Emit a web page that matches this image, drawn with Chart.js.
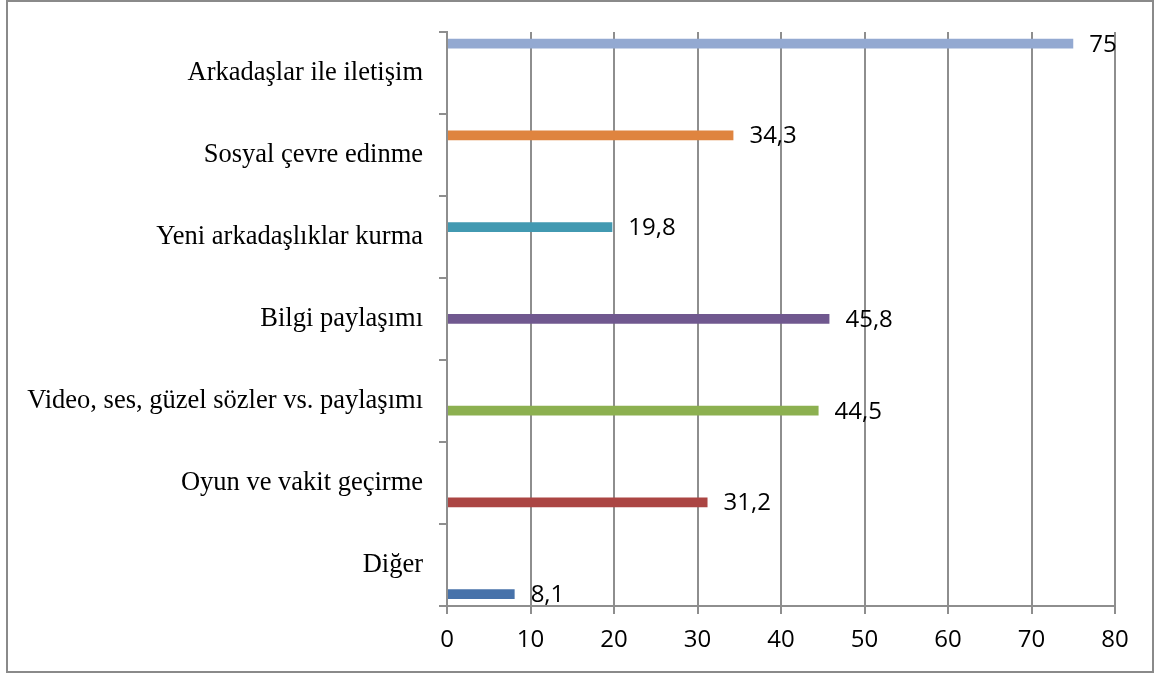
<!DOCTYPE html>
<html>
<head>
<meta charset="utf-8">
<script src="https://cdn.jsdelivr.net/npm/chart.js@4"></script>
<style>
  html, body { margin: 0; padding: 0; background: #fff; }
  #chart { display: block; }
</style>
</head>
<body>
<canvas id="chart" width="1164" height="675"></canvas>
<script>
// Kategoriler ve değerler (yüzde)
const categories = [
    'Arkadaşlar ile iletişim',
    'Sosyal çevre edinme',
    'Yeni arkadaşlıklar kurma',
    'Bilgi paylaşımı',
    'Video, ses, güzel sözler vs. paylaşımı',
    'Oyun ve vakit geçirme',
    'Diğer'
];
const values = [75, 34.3, 19.8, 45.8, 44.5, 31.2, 8.1];
const barColors = ['#93A9D1', '#DF843F', '#4299B1', '#70588F', '#8CB050', '#AB4543', '#4772AA'];
const xTicks = [0, 10, 20, 30, 40, 50, 60, 70, 80];

const gridColor = '#8e8e8e';

// Her kategori ayrı bir seri (Excel'deki gibi)
const datasets = categories.map((c, i) => ({
    label: c,
    data: categories.map((_, j) => (j === i ? values[i] : null)),
    backgroundColor: barColors[i],
    borderWidth: 0,
    categoryPercentage: 0.83,
    barPercentage: 1.0
}));

// Çerçeve ve değer etiketleri
const frame = {
    id: 'frame',
    afterDraw(chart) {
        const ctx = chart.ctx;
        ctx.save();
        ctx.strokeStyle = '#8a8a8a';
        ctx.lineWidth = 2;
        ctx.strokeRect(7, 1, 1146, 671);
        ctx.restore();
    }
};

const valueLabels = {
    id: 'valueLabels',
    afterDatasetsDraw(chart) {
        const ctx = chart.ctx;
        ctx.save();
        ctx.font = '24px "Open Sans"';
        ctx.fillStyle = '#000';
        ctx.textAlign = 'left';
        ctx.textBaseline = 'middle';
        chart.data.datasets.forEach((ds, i) => {
            const meta = chart.getDatasetMeta(i);
            meta.data.forEach((bar, j) => {
                const v = ds.data[j];
                if (v === null) return;
                ctx.fillText(String(v).replace('.', ','), bar.x + 16, bar.y + 1);
            });
        });
        ctx.restore();
    }
};

new Chart(document.getElementById('chart'), {
    type: 'bar',
    data: { labels: categories, datasets: datasets },
    options: {
        indexAxis: 'y',
        responsive: false,
        animation: false,
        layout: { padding: { top: 30, right: 49, left: 0, bottom: 0 } },
        plugins: {
            legend: { display: false },
            tooltip: { enabled: false }
        },
        scales: {
            x: {
                min: 0,
                max: 80,
                afterBuildTicks: s => { s.ticks = xTicks.map(v => ({ value: v })); },
                ticks: {
                    color: '#000',
                    font: { family: 'Open Sans', size: 24 },
                    padding: 12,
                    maxRotation: 0
                },
                grid: { color: gridColor, lineWidth: 2, tickLength: 8 },
                border: { color: gridColor, width: 2 },
                afterFit: s => { s.height = 69; }
            },
            y: {
                ticks: {
                    color: '#000',
                    font: { family: '"Liberation Serif", "Times New Roman", serif', size: 26.5 },
                    padding: 16,
                    autoSkip: false
                },
                grid: { drawOnChartArea: false, color: gridColor, lineWidth: 2, tickLength: 8 },
                border: { color: gridColor, width: 2 },
                afterFit: s => { s.width = 447; }
            }
        }
    },
    plugins: [frame, valueLabels]
});
</script>
</body>
</html>
